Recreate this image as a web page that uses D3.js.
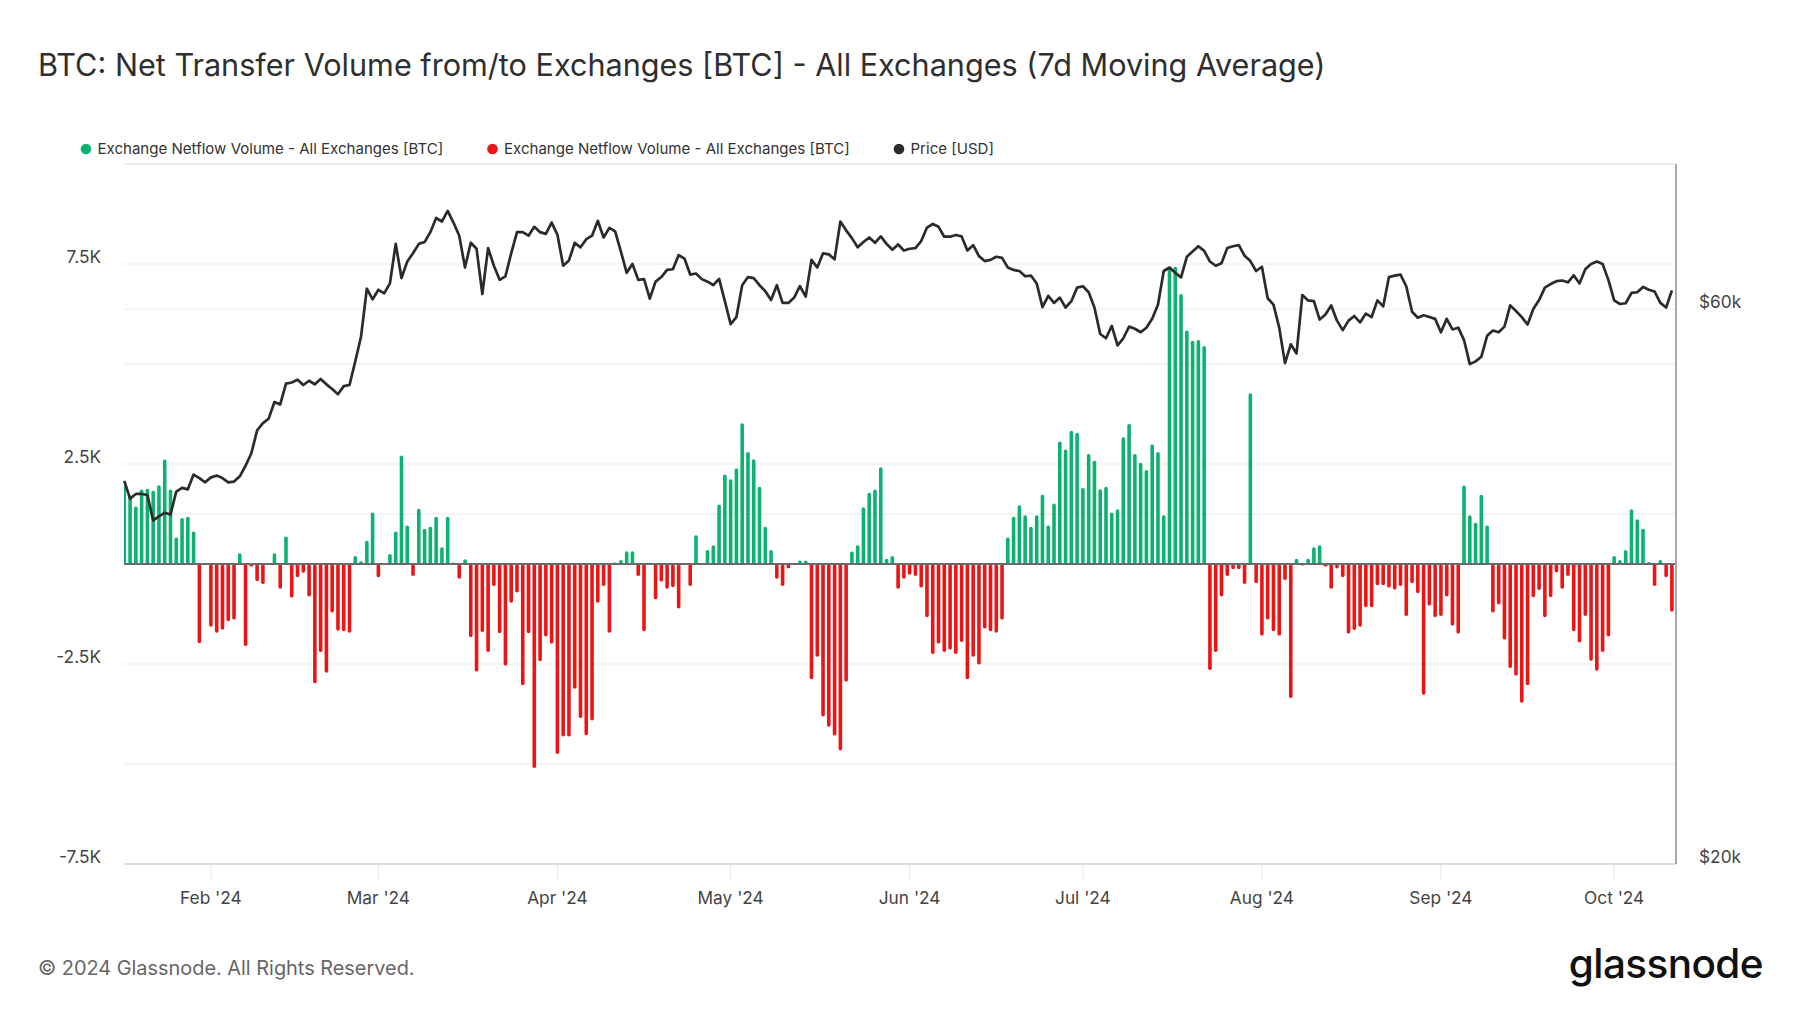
<!DOCTYPE html>
<html><head><meta charset="utf-8">
<script src="https://cdn.jsdelivr.net/npm/d3@7"></script>
<style>
body{margin:0;background:#fff;}
svg{display:block;font-family:Inter,"Noto Sans",sans-serif;}
</style>
</head><body>
<svg id="chart" width="1800" height="1013"></svg>
<script>
// ---------- data ----------
const startDate = "2024-01-17";          // first daily point
const titleText = "BTC: Net Transfer Volume from/to Exchanges [BTC] - All Exchanges (7d Moving Average)";
const seriesNames = ["Exchange Netflow Volume - All Exchanges [BTC]", "Exchange Netflow Volume - All Exchanges [BTC]", "Price [USD]"];
const seriesColors = ["#0db273", "#ec1515", "#2b2b2b"];

// 7d MA exchange netflow, thousands of BTC, one per day from startDate
const netflowK = [
 1.97,1.71,1.44,1.86,1.88,1.83,1.97,2.61,1.86,0.66,
 1.15,1.18,0.81,-1.98,0.0,-1.57,-1.72,-1.64,-1.43,-1.39,
 0.27,-2.05,-0.06,-0.43,-0.5,-0.02,0.27,-0.62,0.69,-0.84,
 -0.33,-0.22,-0.81,-2.98,-2.2,-2.72,-1.21,-1.67,-1.68,-1.72,
 0.2,0.07,0.58,1.29,-0.33,0.02,0.25,0.81,2.71,0.96,
 -0.3,1.38,0.88,0.93,1.18,0.42,1.18,0.04,-0.37,0.12,
 -1.83,-2.69,-1.7,-2.2,-0.55,-1.73,-2.54,-0.97,-0.71,-3.03,
 -1.73,-5.1,-2.43,-1.81,-1.99,-4.75,-4.31,-4.31,-3.12,-3.85,
 -4.28,-3.91,-0.97,-0.55,-1.72,0.04,0.1,0.32,0.32,-0.3,
 -1.68,0.03,-0.88,-0.44,-0.62,-0.58,-1.11,0.0,-0.55,0.72,
 0.0,0.35,0.47,1.49,2.24,2.12,2.39,3.52,2.8,2.62,
 1.93,0.93,0.35,-0.37,-0.55,-0.11,0.0,0.09,0.09,-2.88,
 -2.32,-3.81,-4.07,-4.29,-4.66,-2.94,0.31,0.47,1.42,1.78,
 1.86,2.42,0.13,0.2,-0.62,-0.37,-0.27,-0.3,-0.59,-1.33,
 -2.25,-1.99,-2.2,-2.14,-2.25,-1.95,-2.88,-2.32,-2.51,-1.61,
 -1.68,-1.72,-1.39,0.66,1.18,1.47,1.22,0.93,1.22,1.73,
 0.96,1.51,3.06,2.86,3.33,3.28,1.9,2.75,2.58,1.87,
 1.93,1.29,1.37,3.17,3.5,2.75,2.53,2.35,2.99,2.8,
 1.22,7.43,7.43,6.75,5.84,5.58,5.6,5.45,-2.65,-2.2,
 -0.81,-0.3,-0.13,-0.13,-0.5,4.27,-0.48,-1.79,-1.39,-1.68,
 -1.79,-0.4,-3.35,0.13,-0.04,0.13,0.42,0.47,-0.06,-0.62,
 -0.11,-0.33,-1.74,-1.65,-1.57,-1.08,-1.08,-0.53,-0.53,-0.59,
 -0.64,-0.55,-1.3,-0.48,-0.73,-3.27,-1.04,-1.33,-1.3,-0.81,
 -1.54,-1.74,1.96,1.22,1.03,1.73,0.96,-1.21,-1.01,-1.89,
 -2.6,-2.79,-3.47,-3.03,-0.83,-0.65,-1.33,-0.83,-0.21,-0.62,
 -0.3,-1.68,-1.96,-1.3,-2.42,-2.67,-2.2,-1.81,0.2,0.1,
 0.35,1.37,1.12,0.88,0.05,-0.55,0.1,-0.33,-1.19
];

// BTC price, thousands of USD, one per day from startDate
const priceK = [
 42.71,41.24,41.62,41.62,41.53,39.48,39.82,40.10,39.96,41.82,
 42.12,42.00,43.25,42.95,42.59,43.01,43.16,42.95,42.59,42.65,
 43.10,44.01,45.11,47.21,47.88,48.32,49.93,49.69,51.79,51.90,
 52.19,51.64,52.08,51.71,52.27,51.71,51.24,50.71,51.53,51.64,
 54.13,56.85,62.49,61.18,62.36,61.92,63.15,68.30,63.82,65.95,
 67.03,68.30,68.54,69.90,71.89,71.39,72.90,71.24,69.41,65.17,
 68.45,67.64,61.84,67.73,65.40,63.60,64.05,67.03,69.90,69.90,
 69.41,70.64,69.90,69.66,71.24,69.56,65.40,66.09,68.45,67.83,
 68.93,69.41,71.49,69.17,70.50,70.01,67.26,64.49,65.63,63.60,
 63.69,61.27,63.37,63.95,64.86,64.95,66.80,66.34,64.27,64.40,
 63.69,63.37,62.93,63.73,60.97,58.26,59.08,62.93,63.95,63.81,
 62.93,62.19,61.10,62.93,60.76,60.76,61.40,62.80,61.53,66.17,
 65.17,67.03,66.89,66.24,71.39,70.15,69.08,67.83,68.54,69.17,
 68.45,69.31,68.30,67.50,68.21,67.41,67.64,67.73,68.68,70.54,
 71.04,70.64,69.27,69.27,69.51,69.31,67.41,68.12,66.66,66.01,
 66.17,66.57,66.43,65.17,64.86,64.72,64.05,64.14,63.15,60.25,
 61.62,60.76,61.40,60.21,60.97,62.63,62.80,62.06,60.21,57.13,
 56.65,58.05,55.86,56.65,57.97,57.73,57.33,57.85,58.87,60.55,
 64.72,65.17,64.49,63.91,66.57,67.26,67.98,67.36,65.95,65.40,
 65.72,67.73,67.98,68.12,66.71,66.01,64.72,65.27,61.32,60.55,
 57.85,53.93,55.98,54.97,61.71,61.06,60.97,58.79,59.37,60.46,
 58.66,57.57,58.66,59.20,58.46,59.49,59.08,61.06,60.34,63.95,
 64.14,64.27,62.80,59.70,59.00,59.29,59.08,58.87,57.33,58.87,
 57.65,57.85,56.45,53.82,54.12,54.62,56.93,57.53,57.33,57.97,
 60.46,59.79,59.08,58.22,60.04,61.10,62.63,63.07,63.43,63.52,
 63.29,64.18,63.15,64.95,65.63,65.95,65.63,63.60,61.06,60.63,
 60.72,61.97,62.06,62.71,62.36,62.15,60.76,60.21,62.28
];

const leftTickValues = [-7.5,-5,-2.5,0,2.5,5,7.5,10];
const leftTickLabels = ["-7.5K","","-2.5K","","2.5K","","7.5K",""];
const rightTickValues = [20000,40000,60000,80000];
const rightTickLabels = ["$20k","","$60k",""];
const monthTicks = ["2024-02-01","2024-03-01","2024-04-01","2024-05-01","2024-06-01","2024-07-01","2024-08-01","2024-09-01","2024-10-01"];
const monthLabels = ["Feb '24","Mar '24","Apr '24","May '24","Jun '24","Jul '24","Aug '24","Sep '24","Oct '24"];
const footerText = "© 2024 Glassnode. All Rights Reserved.";
const brandText = "glassnode";

// ---------- layout ----------
const W = 1800, H = 1013;
const plot = {left:124, right:1676, top:164, bottom:864};
const axisFont = 17.3;
const svg = d3.select("#chart");
svg.append("rect").attr("width",W).attr("height",H).attr("fill","#fff");

const parse = d3.utcParse("%Y-%m-%d");
const d0 = parse(startDate);
const dates = netflowK.map((_,i)=>d3.utcDay.offset(d0,i));
const rows = dates.map((d,i)=>({date:d, flow:netflowK[i], price:priceK[i]*1000}));

const x = d3.scaleUtc()
  .domain([d0, d3.utcHour.offset(dates[dates.length-1], 17)])
  .range([plot.left+0.3, plot.right]);
const y = d3.scaleLinear().domain([-7.5,10]).range([plot.bottom, plot.top]);
const yP = d3.scaleLog().domain([20000,80000]).range([plot.bottom, plot.top]);

// title
svg.append("text").attr("x",38).attr("y",76)
  .attr("font-size",30.6).attr("fill","#2f2f2f").text(titleText);

// legend
const legendX = [86, 492.5, 899];
seriesNames.forEach((n,i)=>{
  const g = svg.append("g").attr("transform",`translate(${legendX[i]},149)`);
  g.append("circle").attr("r",5.3).attr("fill",seriesColors[i]);
  g.append("text").attr("x",11.5).attr("dy","0.35em").attr("font-size",15.05)
    .attr("fill","#333").text(n);
});

// gridlines
const grid = svg.append("g");
grid.selectAll("line.l").data(leftTickValues).join("line")
  .attr("x1",plot.left).attr("x2",plot.right)
  .attr("y1",d=>y(d)).attr("y2",d=>y(d))
  .attr("stroke","#f1f1f1").attr("stroke-width",1.5);
grid.selectAll("line.r").data(rightTickValues.slice(1,3)).join("line")
  .attr("x1",plot.left).attr("x2",plot.right)
  .attr("y1",d=>yP(d)).attr("y2",d=>yP(d))
  .attr("stroke","#f1f1f1").attr("stroke-width",1.5);
svg.append("line").attr("x1",plot.left).attr("x2",plot.right)
  .attr("y1",plot.top).attr("y2",plot.top).attr("stroke","#e8e8e8").attr("stroke-width",1.5);

// month ticks
svg.append("g").selectAll("line").data(monthTicks).join("line")
  .attr("x1",d=>x(parse(d))).attr("x2",d=>x(parse(d)))
  .attr("y1",plot.bottom).attr("y2",plot.bottom+17)
  .attr("stroke","#e6e6e6").attr("stroke-width",1);
svg.append("g").selectAll("text").data(monthTicks).join("text")
  .attr("x",d=>x(parse(d))).attr("y",904).attr("text-anchor","middle")
  .attr("font-size",axisFont).attr("fill","#444").text((d,i)=>monthLabels[i]);

// axis labels
svg.append("g").selectAll("text").data(leftTickValues).join("text")
  .attr("x",101).attr("y",d=>y(d)-1).attr("text-anchor","end")
  .attr("font-size",axisFont).attr("fill","#444").text((d,i)=>leftTickLabels[i]);
svg.append("g").selectAll("text").data(rightTickValues).join("text")
  .attr("x",1699).attr("y",d=>yP(d)-1).attr("text-anchor","start")
  .attr("font-size",axisFont).attr("fill","#444").text((d,i)=>rightTickLabels[i]);

// clip
svg.append("clipPath").attr("id","clip").append("rect")
  .attr("x",plot.left).attr("y",plot.top).attr("width",plot.right-plot.left).attr("height",plot.bottom-plot.top);

// bars
const bw = 3.6;
svg.append("g").attr("clip-path","url(#clip)").selectAll("rect").data(rows).join("rect")
  .attr("x",d=>x(d.date)-bw/2).attr("width",bw)
  .attr("y",d=>Math.min(y(d.flow),y(0))).attr("height",d=>Math.abs(y(d.flow)-y(0)))
  .attr("rx",1.7)
  .attr("fill",d=>d.flow>=0?seriesColors[0]:seriesColors[1]);

// zero line
svg.append("line").attr("x1",plot.left).attr("x2",plot.right)
  .attr("y1",y(0)).attr("y2",y(0)).attr("stroke","#6a6a6a").attr("stroke-width",2.2);

// bottom axis line & right border
svg.append("line").attr("x1",plot.left).attr("x2",plot.right)
  .attr("y1",plot.bottom).attr("y2",plot.bottom).attr("stroke","#dcdcdc").attr("stroke-width",2);
svg.append("line").attr("x1",plot.right).attr("x2",plot.right)
  .attr("y1",plot.top).attr("y2",plot.bottom).attr("stroke","#a8a8a8").attr("stroke-width",2);

// price line
svg.append("path").datum(rows)
  .attr("fill","none").attr("stroke",seriesColors[2]).attr("stroke-width",2.7)
  .attr("stroke-linejoin","round")
  .attr("d",d3.line().x(d=>x(d.date)).y(d=>yP(d.price)));

// footer
svg.append("text").attr("x",38).attr("y",975).attr("font-size",19.9)
  .attr("fill","#666").text(footerText);
svg.append("text").attr("x",1763).attr("y",978).attr("text-anchor","end")
  .attr("font-size",40.5).attr("font-weight",500).attr("letter-spacing",-0.6)
  .attr("fill","#111").text(brandText);
</script>
</body></html>
